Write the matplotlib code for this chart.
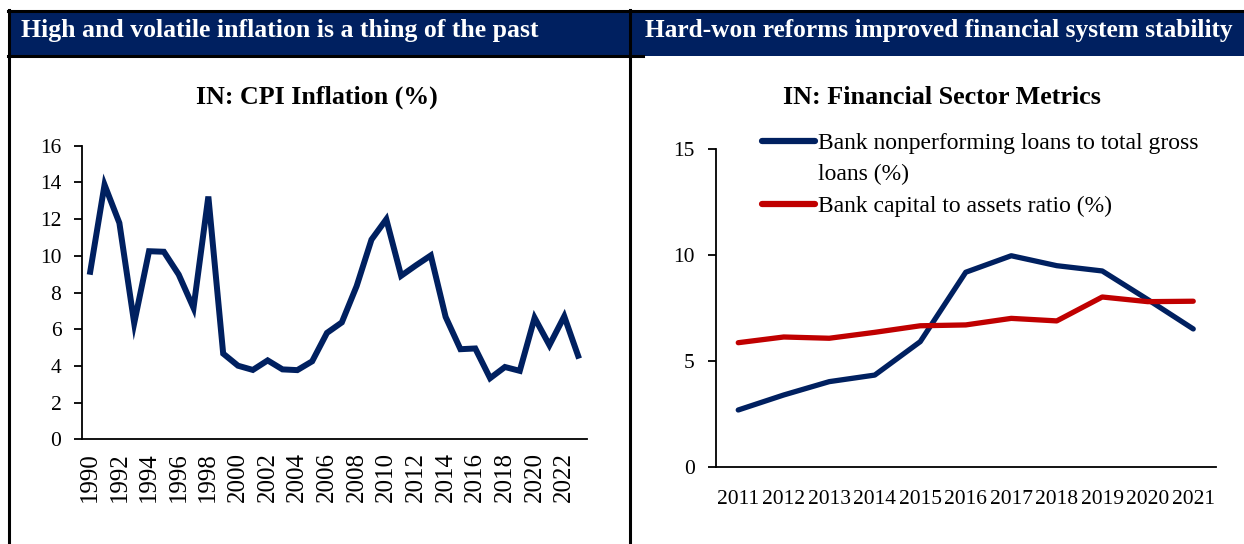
import matplotlib
matplotlib.use("Agg")
import matplotlib.pyplot as plt
from matplotlib.patches import Rectangle
from matplotlib.lines import Line2D

# ---- data ----
cpi_years = list(range(1990, 2024))
cpi_values = [8.97, 13.87, 11.79, 6.33, 10.25, 10.22, 8.98, 7.16, 13.23, 4.67,
              4.01, 3.78, 4.30, 3.81, 3.77, 4.25, 5.80, 6.37, 8.35, 10.88,
              11.99, 8.91, 9.48, 10.02, 6.67, 4.91, 4.95, 3.33, 3.94, 3.73,
              6.62, 5.13, 6.70, 4.40]

fin_years = [str(y) for y in range(2011, 2022)]
npl_ratio = [2.68, 3.39, 4.02, 4.33, 5.91, 9.19, 9.97, 9.50, 9.25, 7.90, 6.51]
capital_ratio = [5.86, 6.13, 6.07, 6.35, 6.66, 6.70, 7.01, 6.89, 8.02, 7.80, 7.82]

left_header = "High and volatile inflation is a thing of the past"
right_header = "Hard-won reforms improved financial system stability"
left_title = "IN: CPI Inflation (%)"
right_title = "IN: Financial Sector Metrics"
npl_label_lines = ["Bank nonperforming loans to total gross", "loans (%)"]
cap_label = "Bank capital to assets ratio (%)"

NAVY = "#002060"
RED = "#C00000"
SERIF = ["Liberation Serif", "DejaVu Serif"]

W, H = 1244, 544
fig = plt.figure(figsize=(W / 100, H / 100), dpi=100)
fig.patch.set_facecolor("white")


def fx(px):
    return px / W


def fy(py):
    return 1 - py / H


# ---- panel frames and header bands ----
fig.patches.append(Rectangle((fx(8), fy(56)), fx(1244 - 8), 45 / H,
                             transform=fig.transFigure, facecolor=NAVY,
                             edgecolor="none", zorder=0))
frame_kw = dict(transform=fig.transFigure, color="black", linewidth=2.2)
fig.add_artist(Line2D([fx(8), fx(1244)], [fy(10.5), fy(10.5)], **frame_kw))
fig.add_artist(Line2D([fx(8), fx(643)], [fy(56), fy(56)], **frame_kw))
fig.add_artist(Line2D([fx(8.5), fx(8.5)], [fy(10), 0], **frame_kw))
fig.add_artist(Line2D([fx(629.5), fx(629.5)], [fy(10), 0], **frame_kw))

fig.text(fx(21), fy(31), left_header, color="white", fontsize=18.5,
         fontweight="bold", family=SERIF, va="center", ha="left")
fig.text(fx(645), fy(31), right_header, color="white", fontsize=18.3,
         fontweight="bold", family=SERIF, va="center", ha="left")

fig.text(fx(317), fy(97), left_title, fontsize=18.6, fontweight="bold",
         family=SERIF, ha="center", va="center")
fig.text(fx(942), fy(97), right_title, fontsize=18.8, fontweight="bold",
         family=SERIF, ha="center", va="center")

# ---- left chart: CPI inflation ----
ax1 = fig.add_axes([fx(82.3), fy(439.3), fx(586.5 - 82.3), (439.3 - 145.7) / H])
x1 = list(range(len(cpi_years)))
ax1.plot(x1, cpi_values, color=NAVY, linewidth=4.3, solid_joinstyle="miter",
         solid_capstyle="butt")
ax1.set_xlim(-0.5, len(cpi_years) - 0.5)
ax1.set_ylim(0, 16)
ax1.set_yticks(range(0, 17, 2))
ax1.set_xticks(x1[::2])
ax1.set_xticklabels([str(y) for y in cpi_years[::2]], rotation=90,
                    family=SERIF, fontsize=18)
ax1.tick_params(axis="x", length=0, pad=9)
ax1.tick_params(axis="y", length=6, width=1.3, direction="out", pad=9,
                labelsize=15.5)
for lab in ax1.get_yticklabels():
    lab.set_family(SERIF)

# ---- right chart: financial sector metrics ----
ax2 = fig.add_axes([fx(715.5), fy(466.7), fx(1216 - 715.5), (466.7 - 149.3) / H])
x2 = list(range(len(fin_years)))
npl_line, = ax2.plot(x2, npl_ratio, color=NAVY, linewidth=3.8,
                     solid_capstyle="round")
cap_line, = ax2.plot(x2, capital_ratio, color=RED, linewidth=3.8,
                     solid_capstyle="round")
ax2.set_xlim(-0.5, len(fin_years) - 0.5)
ax2.set_ylim(0, 15)
ax2.set_yticks([0, 5, 10, 15])
ax2.set_xticks(x2)
ax2.set_xticklabels(fin_years, family=SERIF, fontsize=15.5)
ax2.tick_params(axis="x", length=0, pad=17)
ax2.tick_params(axis="y", length=6, width=1.3, direction="out", pad=9,
                labelsize=15.5)
for lab in ax2.get_yticklabels():
    lab.set_family(SERIF)

# legend: the long label wraps, so its second line gets a blank handle
blank = Line2D([], [], color="none")
leg = ax2.legend([npl_line, blank, cap_line],
                 [npl_label_lines[0], npl_label_lines[1], cap_label],
                 loc="upper left",
                 bbox_to_anchor=((761.7 - 715.5) / 500.5, 1 + (149.3 - 132.5) / 317.4),
                 frameon=False, prop={"family": SERIF, "size": 17},
                 handlelength=2.25, handletextpad=0.12, labelspacing=0.42,
                 borderaxespad=0, borderpad=0)
for h in leg.get_lines():
    h.set_linewidth(4.5)
    h.set_solid_capstyle("round")

for ax in (ax1, ax2):
    ax.spines["top"].set_visible(False)
    ax.spines["right"].set_visible(False)
    ax.spines["left"].set_linewidth(1.3)
    ax.spines["bottom"].set_linewidth(1.3)
    ax.set_facecolor("none")

fig.savefig("out.png", dpi=100)
